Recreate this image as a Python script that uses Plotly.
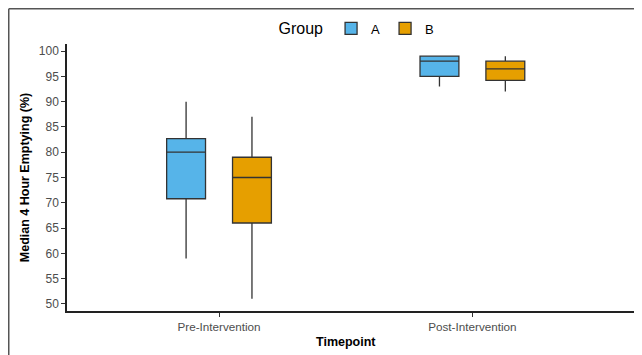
import plotly.graph_objects as go

timepoints = ["Pre-Intervention", "Post-Intervention"]
groups = ["A", "B"]
colors = {"A": "#56B4E9", "B": "#E69F00"}

# quartile stats per group: [Pre, Post]
lower = {"A": [59, 93], "B": [51, 92]}
q1 = {"A": [70.8, 95], "B": [66, 94.2]}
median = {"A": [80, 98], "B": [75, 96.5]}
q3 = {"A": [82.7, 99], "B": [79, 98]}
upper = {"A": [90, 99], "B": [87, 99]}

yticks = [50, 55, 60, 65, 70, 75, 80, 85, 90, 95, 100]

fig = go.Figure()
for g in groups:
    fig.add_trace(go.Box(
        x=timepoints, name=g,
        lowerfence=lower[g], q1=q1[g], median=median[g], q3=q3[g], upperfence=upper[g],
        fillcolor=colors[g], line=dict(color="#333333", width=1.3),
        whiskerwidth=0, boxpoints=False, hoverinfo="skip",
    ))

W, H = 660, 370
L, T, B = 59, 36, 67
pw, ph = W - L, H - T - B

grey = "#4d4d4d"
fig.update_layout(
    width=W, height=H,
    margin=dict(l=L, r=0, t=T, b=B, autoexpand=False),
    paper_bgcolor="white", plot_bgcolor="white",
    boxmode="group", boxgap=0.48, boxgroupgap=0.41,
    font=dict(family="Liberation Sans, Arial, sans-serif", color="black"),
    legend=dict(
        orientation="h", xref="container", x=350 / W, xanchor="center",
        yref="container", y=1 - 21 / H, yanchor="middle",
        title=dict(text="Group", font=dict(size=16)),
        font=dict(size=13),
    ),
    xaxis=dict(
        type="category", range=[-0.6, 1.772], automargin=False,
        showline=True, linecolor="#222", linewidth=1.5,
        ticks="outside", ticklen=4, tickcolor="#333",
        tickfont=dict(size=11.7, color=grey), showgrid=False, zeroline=False,
    ),
    yaxis=dict(
        range=[48.6, 101.4], tickvals=yticks, automargin=False,
        showline=True, linecolor="#222", linewidth=1.5,
        ticks="outside", ticklen=4, tickcolor="#333",
        tickfont=dict(size=12, color=grey), showgrid=False, zeroline=False,
        title=dict(text="<b>Median 4 Hour Emptying (%)</b>", font=dict(size=12.5), standoff=6),
    ),
)

# x-axis title, centred as in the original (narrower) panel
fig.add_annotation(
    text="<b>Timepoint</b>", xref="paper", yref="paper",
    x=(338 - L) / pw, y=-(334 - (T + ph)) / ph, xanchor="center", yanchor="middle",
    showarrow=False, font=dict(size=12.5, color="black"),
)

# outer frame lines (top and left) at the figure edge
fx = (0.75 - L) / pw
fy = (ph + T - 0.75) / ph
fig.add_shape(type="line", xref="paper", yref="paper", x0=fx, x1=1.0, y0=fy, y1=fy,
              line=dict(color="#555", width=1.5))
fig.add_shape(type="line", xref="paper", yref="paper", x0=fx, x1=fx, y0=fy, y1=-B / ph,
              line=dict(color="#555", width=1.5))

fig.write_html(
    "out.html",
    post_script="document.documentElement.style.overflow='hidden';document.body.style.overflow='hidden';",
)
